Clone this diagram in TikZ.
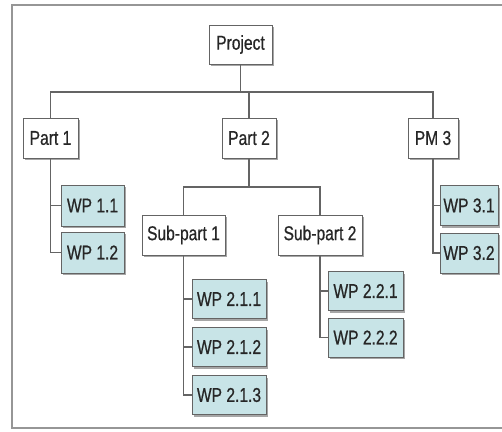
\documentclass[tikz,border=0pt]{standalone}
\usepackage{fontspec}
\setmainfont{Liberation Sans}[FakeStretch=0.78,FakeBold=0.6]
\usetikzlibrary{shadows}
\definecolor{wpfill}{RGB}{200,228,231}
\definecolor{edgegray}{RGB}{100,100,100}
\definecolor{framegray}{RGB}{150,150,150}
\begin{document}
\begin{tikzpicture}[x=1pt,y=-1pt,
  box/.style={draw=edgegray, line width=1pt, fill=white, inner sep=0pt,
    font=\fontsize{20}{22}\selectfont, text=black!85,
    drop shadow={shadow xshift=2pt, shadow yshift=-2pt, fill=black!35, opacity=1}},
  wpbox/.style={box, fill=wpfill},
  link/.style={draw=edgegray, line width=1.3pt}]
\useasboundingbox (0,0) rectangle (502,431);
% outer frame (open to the right)
\draw[framegray, line width=1.6pt] (505,5) -- (12,5) -- (12,428) -- (505,428);

% top level
\node[box, minimum width=63pt, minimum height=39pt] (proj) at (240.5,44.5) {Project};
\node[box, minimum width=55pt, minimum height=40pt] (p1) at (50.5,138) {Part 1};
\node[box, minimum width=54pt, minimum height=40pt] (p2) at (249,138) {Part 2};
\node[box, minimum width=50pt, minimum height=40pt] (pm3) at (433,138) {PM 3};

% part 1 work packages
\node[wpbox, minimum width=63pt, minimum height=41pt] (wp11) at (92.5,205.5) {WP 1.1};
\node[wpbox, minimum width=63pt, minimum height=41pt] (wp12) at (92.5,252.5) {WP 1.2};

% part 2 sub-parts
\node[box, minimum width=83pt, minimum height=40pt] (sp1) at (183.5,235) {Sub-part 1};
\node[box, minimum width=84pt, minimum height=40pt] (sp2) at (320,235) {Sub-part 2};
\node[wpbox, minimum width=74pt, minimum height=39pt] (wp211) at (229,299) {WP 2.1.1};
\node[wpbox, minimum width=74pt, minimum height=39pt] (wp212) at (229,347) {WP 2.1.2};
\node[wpbox, minimum width=74pt, minimum height=39pt] (wp213) at (229,395) {WP 2.1.3};
\node[wpbox, minimum width=75pt, minimum height=39pt] (wp221) at (365.5,291) {WP 2.2.1};
\node[wpbox, minimum width=75pt, minimum height=39pt] (wp222) at (365.5,337.5) {WP 2.2.2};

% PM 3 work packages
\node[wpbox, minimum width=58pt, minimum height=40pt] (wp31) at (469,205.5) {WP 3.1};
\node[wpbox, minimum width=58pt, minimum height=40pt] (wp32) at (469,253) {WP 3.2};

% connectors
\coordinate (bus) at (0,92);
\coordinate (bus2) at (0,187);
\path[link] (proj.south) -- (proj |- bus);
\path[link] (p1.north) |- (pm3 |- bus) -- (pm3.north);
\path[link] (p2.north) -- (p2 |- bus);
\path[link] (p1.south) |- (wp11.west);
\path[link] (p1.south) |- (wp12.west);
\path[link] (pm3.south) |- (wp31.west);
\path[link] (pm3.south) |- (wp32.west);
\path[link] (p2.south) -- (p2 |- bus2);
\path[link] (sp1.north) |- (sp2 |- bus2) -- (sp2.north);
\path[link] (sp1.south) |- (wp211.west);
\path[link] (sp1.south) |- (wp212.west);
\path[link] (sp1.south) |- (wp213.west);
\path[link] (sp2.south) |- (wp221.west);
\path[link] (sp2.south) |- (wp222.west);
\end{tikzpicture}
\end{document}
